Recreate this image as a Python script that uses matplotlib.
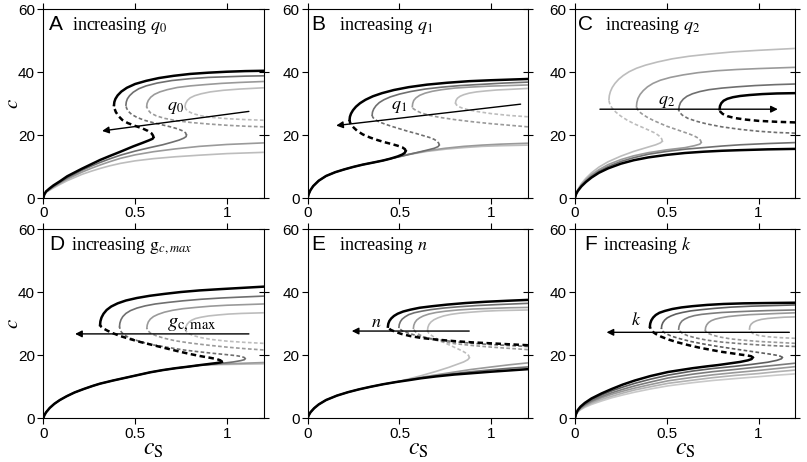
import matplotlib
matplotlib.use("Agg")
import matplotlib.pyplot as plt

plt.rcParams['font.family'] = ['Liberation Sans', 'DejaVu Sans']
plt.rcParams['mathtext.fontset'] = 'stix'

# ---- panel A: increasing q0 (index 0 = black) ----
A_base_cs = [0, .005, .015, .035, .055, .09, .13, .17, .21, .26, .31, .36, .42]
A_low_cs = [A_base_cs + [.49, .54, .575, .595, .60],
            A_base_cs + [.50, .58, .65, .70, .74, .765, .778, .78],
            A_base_cs + [.50, .6, .72, .85, 1.0, 1.2],
            A_base_cs + [.50, .6, .72, .85, 1.0, 1.2]]
A_low_c = [[0, 1.1, 2.1, 3.1, 4.0, 5.3, 6.9, 8.1, 9.3, 10.7, 12.1, 13.3, 14.7, 16.4, 17.5, 18.3, 18.8, 19.2],
           [0, 1.05, 2.0, 2.9, 3.7, 5.0, 6.4, 7.6, 8.8, 10.1, 11.3, 12.4, 13.6, 14.9, 16.0, 16.9, 17.7, 18.4, 19.0, 19.5, 20],
           [0, 1.0, 1.9, 2.7, 3.5, 4.7, 6.0, 7.1, 8.2, 9.4, 10.5, 11.5, 12.6, 13.7, 14.7, 15.6, 16.4, 17, 17.5],
           [0, .95, 1.8, 2.5, 3.2, 4.3, 5.5, 6.5, 7.5, 8.5, 9.4, 10.2, 11.0, 11.8, 12.5, 13.1, 13.6, 14.1, 14.5]]
A_mid_cs = [[.60, .598, .59, .57, .54, .50, .46, .43, .41, .395, .388, .385],
            [.78, .775, .76, .735, .70, .65, .60, .55, .51, .48, .462, .453, .45],
            [1.2, 1.1, 1.0, .90, .80, .72, .66, .615, .585, .57, .563],
            [1.2, 1.1, 1.0, .92, .86, .815, .79, .777, .772]]
A_mid_c = [[19.2, 19.8, 20.5, 21.3, 22.1, 22.9, 23.8, 24.8, 26, 27.3, 28.4, 29.5],
           [20, 20.7, 21.3, 21.9, 22.5, 23.2, 23.9, 24.7, 25.6, 26.6, 27.6, 28.6, 29.5],
           [22.6, 22.8, 23.1, 23.5, 24.0, 24.6, 25.3, 26.1, 27, 28, 29],
           [24.7, 24.9, 25.2, 25.6, 26.1, 26.8, 27.5, 28.2, 29]]
A_up_cs = [[.385, .387, .393, .405, .425, .455, .50, .56, .63, .71, .80, .90, 1.0, 1.1, 1.2],
           [.45, .452, .458, .47, .49, .52, .56, .62, .70, .80, .90, 1.0, 1.1, 1.2],
           [.563, .565, .572, .585, .605, .635, .675, .73, .80, .88, .97, 1.07, 1.2],
           [.772, .775, .785, .80, .825, .86, .91, .98, 1.07, 1.2]]
A_up_c = [[29.5, 30.5, 31.5, 32.6, 33.8, 35, 36.2, 37.2, 38.1, 38.8, 39.4, 39.8, 40.1, 40.3, 40.4],
          [29.5, 30.5, 31.5, 32.5, 33.6, 34.7, 35.6, 36.5, 37.3, 37.9, 38.3, 38.5, 38.7, 38.8],
          [29, 30, 31, 32, 32.9, 33.7, 34.4, 35.1, 35.6, 36, 36.4, 36.7, 37],
          [29, 30, 31, 31.8, 32.5, 33.1, 33.7, 34.2, 34.6, 35]]

# ---- panel B: increasing q1 ----
B_base_cs = [0, .005, .015, .03, .06, .1, .15, .2, .25, .3, .36, .41, .451]
B_base_c = [0, 1.2, 2.5, 3.8, 5.5, 7, 8.2, 9.1, 9.9, 10.6, 11.3, 11.9, 12.5]
B_low_cs = [B_base_cs + [.49, .515, .528, .534],
            B_base_cs + [.50, .55, .60, .65, .69, .71, .717],
            B_base_cs + [.50, .55, .65, .75, .85, .95, 1.05, 1.2],
            B_base_cs + [.50, .55, .65, .75, .85, .95, 1.05, 1.2]]
B_low_c = [B_base_c + [13.2, 13.8, 14.3, 14.9],
           B_base_c + [13.1, 13.8, 14.5, 15.2, 15.8, 16.3, 16.8],
           B_base_c + [13.2, 13.9, 15, 15.8, 16.4, 16.8, 17.1, 17.4],
           B_base_c + [13.2, 13.8, 14.8, 15.5, 16, 16.4, 16.6, 16.8]]
B_mid_cs = [[.534, .53, .515, .49, .46, .42, .38, .34, .30, .27, .25, .236, .23, .228],
            [.717, .714, .705, .69, .665, .63, .59, .545, .50, .455, .415, .385, .365, .355, .351],
            [1.2, 1.1, 1.0, .9, .8, .72, .66, .615, .59, .575, .57],
            [1.2, 1.1, 1.0, .93, .875, .84, .82, .81, .805]]
B_mid_c = [[14.9, 15.5, 16.1, 16.6, 17.1, 17.7, 18.4, 19.2, 20.2, 21.3, 22.4, 23.3, 24.1, 24.8],
           [16.8, 17.4, 18, 18.6, 19.2, 19.8, 20.5, 21.2, 22, 22.8, 23.6, 24.3, 25, 25.6, 26.3],
           [22.6, 23.1, 23.6, 24.2, 24.9, 25.6, 26.3, 27.1, 27.8, 28.4, 29],
           [25.8, 26.2, 26.8, 27.4, 28, 28.6, 29.1, 29.6, 30.2]]
B_up_cs = [[.228, .23, .236, .247, .263, .285, .315, .355, .405, .47, .55, .65, .76, .88, 1.0, 1.1, 1.2],
           [.351, .353, .36, .372, .39, .415, .45, .50, .56, .64, .73, .83, .95, 1.07, 1.2],
           [.57, .572, .578, .59, .61, .64, .68, .73, .80, .88, .98, 1.09, 1.2],
           [.805, .808, .816, .83, .85, .88, .92, .97, 1.03, 1.1, 1.2]]
B_up_c = [[24.8, 25.8, 26.8, 27.9, 29, 30.1, 31.2, 32.3, 33.3, 34.3, 35.2, 36, 36.6, 37.1, 37.4, 37.6, 37.8],
          [26.3, 27.3, 28.3, 29.3, 30.3, 31.2, 32.1, 33, 33.8, 34.6, 35.2, 35.7, 36.1, 36.5, 36.8],
          [29, 30, 31, 31.8, 32.6, 33.3, 33.9, 34.4, 34.9, 35.2, 35.5, 35.7, 35.9],
          [30.2, 31, 31.7, 32.3, 32.8, 33.3, 33.7, 34, 34.3, 34.5, 34.8]]

# ---- panel C: increasing q2 ----
C_base_cs = [0, .005, .015, .035, .06, .09, .13, .18, .25, .32, .40]
C_low_cs = [C_base_cs + [.5, .6, .7, .8, .9, 1.05, 1.2],
            C_base_cs + [.5, .6, .7, .8, .9, 1.05, 1.2],
            C_base_cs + [.5, .6, .65, .68, .688],
            C_base_cs + [.44, .465, .476]]
C_low_c = [[0, 1.1, 2.2, 3.7, 5.1, 6.5, 8, 9.4, 10.9, 12, 12.9, 13.7, 14.3, 14.7, 15, 15.2, 15.45, 15.6],
           [0, 1.15, 2.3, 3.9, 5.4, 6.9, 8.5, 10, 11.6, 12.8, 13.9, 14.8, 15.5, 16, 16.5, 16.9, 17.3, 17.6],
           [0, 1.2, 2.5, 4.2, 5.8, 7.4, 9, 10.6, 12.2, 13.4, 14.4, 15.3, 16, 16.6, 17.1, 17.6],
           [0, 1.3, 2.7, 4.6, 6.3, 8, 9.8, 11.5, 13.3, 14.8, 16.2, 16.9, 17.5, 18]]
C_mid_cs = [[1.2, 1.1, 1.0, .93, .87, .83, .805, .792, .788],
            [1.2, 1.1, 1.0, .90, .80, .72, .66, .615, .585, .57, .565],
            [.688, .684, .672, .65, .62, .585, .545, .50, .46, .425, .395, .37, .35, .34, .335],
            [.476, .473, .465, .45, .43, .40, .365, .325, .285, .25, .222, .203, .192, .187, .185]]
C_mid_c = [[24, 24.2, 24.5, 24.9, 25.4, 26, 26.7, 27.4, 28.2],
           [20.6, 20.8, 21.2, 21.8, 22.6, 23.5, 24.4, 25.3, 26.3, 27.2, 28],
           [17.6, 18.3, 19, 19.7, 20.4, 21.1, 21.9, 22.8, 23.8, 24.7, 25.6, 26.5, 27.4, 28.2, 29],
           [18, 18.7, 19.4, 20.1, 20.8, 21.6, 22.5, 23.5, 24.7, 26, 27.3, 28.5, 29.5, 30.4, 31.2]]
C_up_cs = [[.788, .79, .797, .81, .83, .86, .9, .95, 1.02, 1.1, 1.2],
           [.565, .568, .575, .59, .61, .64, .68, .73, .80, .88, .98, 1.09, 1.2],
           [.335, .337, .343, .355, .372, .395, .425, .465, .52, .59, .67, .77, .88, 1.0, 1.1, 1.2],
           [.185, .187, .193, .203, .218, .238, .263, .295, .335, .385, .45, .53, .62, .73, .86, 1.0, 1.2]]
C_up_c = [[28.2, 29.2, 30.1, 30.9, 31.5, 32, 32.4, 32.7, 33, 33.2, 33.3],
          [28, 29.2, 30.3, 31.4, 32.3, 33.1, 33.8, 34.4, 34.9, 35.3, 35.7, 36, 36.2],
          [29, 30.3, 31.6, 32.9, 34.1, 35.3, 36.4, 37.4, 38.3, 39.1, 39.8, 40.4, 40.8, 41.1, 41.3, 41.5],
          [31.2, 32.5, 33.8, 35.1, 36.4, 37.7, 38.9, 40.1, 41.2, 42.2, 43.2, 44.2, 45, 45.7, 46.4, 46.9, 47.5]]

# ---- panel D: increasing gc,max ----
D_base_cs = [0, .005, .015, .035, .06, .09, .127, .17, .22, .27, .309, .38, .45, .52, .582, .65, .72, .79, .855]
D_base_c = [0, .9, 1.9, 3.3, 4.6, 5.8, 7.0, 8.2, 9.3, 10.3, 11.0, 12.0, 12.9, 13.8, 14.6, 15.3, 15.9, 16.4, 16.9]
D_low_cs = [D_base_cs + [.91, .945, .965, .973],
            D_base_cs + [.92, .98, 1.036, 1.075, 1.095, 1.1],
            D_base_cs + [.92, 1.0, 1.1, 1.2],
            D_base_cs + [.92, 1.0, 1.1, 1.2]]
D_low_c = [D_base_c + [17.3, 17.55, 17.75, 17.9],
           D_base_c + [17.2, 17.5, 17.9, 18.3, 18.6, 18.9],
           D_base_c + [17.1, 17.3, 17.5, 17.7],
           D_base_c + [17.0, 17.1, 17.2, 17.3]]
D_mid_cs = [[.973, .965, .945, .91, .86, .80, .74, .67, .60, .53, .47, .42, .38, .35, .328, .315, .309],
            [1.1, 1.095, 1.08, 1.05, 1.0, .93, .85, .764, .68, .60, .53, .475, .44, .425, .418, .415],
            [1.2, 1.1, 1.0, .9, .8, .72, .66, .615, .585, .57, .564],
            [1.2, 1.1, 1.0, .92, .86, .815, .79, .778, .775]]
D_mid_c = [[17.9, 18.4, 18.8, 19.2, 19.7, 20.4, 21.2, 22.2, 23.2, 24.2, 25.2, 26.1, 27, 27.8, 28.5, 29.1, 29.6],
           [18.9, 19.3, 19.6, 19.9, 20.2, 20.6, 21.1, 21.7, 22.5, 23.3, 24.3, 25.4, 26.5, 27.4, 28.2, 29.1],
           [21.7, 22.1, 22.6, 23.2, 23.9, 24.6, 25.4, 26.2, 27, 27.8, 28.6],
           [23.8, 24.1, 24.5, 25, 25.6, 26.3, 27, 27.6, 28.2]]
D_up_cs = [[.309, .311, .317, .328, .345, .37, .405, .45, .51, .58, .66, .75, .85, .96, 1.08, 1.2],
           [.415, .417, .423, .433, .45, .475, .51, .555, .61, .68, .76, .86, .97, 1.08, 1.2],
           [.564, .566, .572, .583, .6, .625, .66, .705, .76, .83, .91, 1.0, 1.1, 1.2],
           [.775, .777, .784, .795, .81, .83, .86, .9, .95, 1.01, 1.08, 1.2]]
D_up_c = [[29.6, 30.8, 32, 33.2, 34.4, 35.5, 36.5, 37.4, 38.2, 38.9, 39.5, 40.1, 40.6, 41, 41.4, 41.8],
          [29.1, 30.2, 31.3, 32.3, 33.3, 34.2, 35, 35.7, 36.3, 36.8, 37.3, 37.8, 38.2, 38.5, 38.8],
          [28.6, 29.6, 30.6, 31.5, 32.3, 33, 33.7, 34.3, 34.8, 35.2, 35.6, 35.9, 36.1, 36.3],
          [28.2, 29.1, 29.9, 30.6, 31.2, 31.7, 32.1, 32.5, 32.8, 33.1, 33.3, 33.5]]

# ---- panel E: increasing n ----
E_base_cs = [0, .005, .015, .035, .06, .1, .159, .22, .28, .342, .41, .48]
E_base_c = [0, .9, 1.9, 3.2, 4.4, 5.8, 7.2, 8.3, 9.2, 10, 10.8, 11.5]
E_low_cs = [E_base_cs + [.55, .616, .7, .8, .89, 1.0, 1.1, 1.2],
            E_base_cs + [.55, .616, .7, .8, .89, 1.0, 1.1, 1.2],
            E_base_cs + [.55, .616, .7, .8, .89, 1.0, 1.1, 1.2],
            E_base_cs + [.55, .616, .7, .77, .817, .85, .872, .881]]
E_low_c = [E_base_c + [12.1, 12.7, 13.3, 13.9, 14.3, 14.8, 15.2, 15.6],
           E_base_c + [12.2, 12.8, 13.5, 14.2, 14.8, 15.4, 15.9, 16.3],
           E_base_c + [12.3, 13, 13.8, 14.7, 15.5, 16.3, 17, 17.6],
           E_base_c + [12.5, 13.5, 14.9, 16.2, 17.2, 17.9, 18.6, 19.2]]
E_mid_cs = [[1.2, 1.1, 1.0, .9, .8, .7, .62, .56, .51, .475, .452, .441, .437],
            [1.2, 1.1, 1.0, .9, .8, .72, .65, .59, .545, .515, .502, .497],
            [1.2, 1.1, 1.0, .9, .8, .72, .66, .62, .595, .582, .576],
            [.881, .877, .865, .845, .82, .79, .76, .73, .705, .685, .67, .66, .655, .653]]
E_mid_c = [[23.2, 23.5, 23.8, 24.1, 24.5, 25, 25.5, 26.1, 26.8, 27.5, 28.1, 28.6, 29.1],
           [22.8, 23.1, 23.4, 23.8, 24.3, 24.9, 25.5, 26.3, 27.1, 27.8, 28.4, 28.9],
           [21.8, 22.2, 22.6, 23.1, 23.7, 24.5, 25.3, 26.2, 27, 27.8, 28.6],
           [19.2, 19.9, 20.6, 21.3, 22, 22.8, 23.6, 24.4, 25.2, 25.9, 26.5, 27, 27.5, 28]]
E_up_cs = [[.437, .439, .445, .455, .47, .49, .52, .56, .61, .68, .76, .86, .97, 1.08, 1.2],
           [.497, .499, .505, .515, .53, .55, .58, .62, .67, .74, .82, .92, 1.03, 1.2],
           [.576, .578, .584, .594, .61, .63, .66, .70, .75, .82, .9, 1.0, 1.1, 1.2],
           [.653, .655, .661, .672, .688, .71, .74, .78, .83, .89, .96, 1.04, 1.12, 1.2]]
E_up_c = [[29.1, 30, 30.9, 31.7, 32.5, 33.2, 33.9, 34.5, 35.1, 35.6, 36.1, 36.6, 37, 37.3, 37.6],
          [28.9, 29.8, 30.7, 31.5, 32.2, 32.9, 33.5, 34, 34.5, 35, 35.4, 35.8, 36.1, 36.5],
          [28.6, 29.5, 30.4, 31.2, 31.9, 32.5, 33.1, 33.6, 34, 34.4, 34.7, 34.9, 35.1, 35.2],
          [28, 28.9, 29.8, 30.6, 31.3, 31.9, 32.5, 33, 33.4, 33.7, 34, 34.2, 34.3, 34.4]]

# ---- panel F: increasing k ----
F_base_cs = [0, .005, .015, .03, .054, .09, .145, .2, .26, .326, .41, .507, .64]
F_low_cs = [F_base_cs + [.72, .779, .84, .9, .942, .962, .969],
            F_base_cs + [.75, .87, .96, 1.05, 1.1, 1.125, 1.13],
            F_base_cs + [.75, .87, 1.0, 1.1, 1.2],
            F_base_cs + [.75, .87, 1.0, 1.1, 1.2],
            F_base_cs + [.75, .87, 1.0, 1.1, 1.2],
            F_base_cs + [.75, .87, 1.0, 1.1, 1.2]]
F_low_c = [[0, 1.3, 2.6, 3.7, 4.9, 6.3, 7.9, 9.3, 10.7, 12.0, 13.4, 14.7, 15.9, 16.5, 16.9, 17.4, 17.9, 18.4, 18.8, 19.3],
           [0, 1.25, 2.5, 3.5, 4.6, 5.9, 7.4, 8.7, 9.9, 11.1, 12.4, 13.7, 15.0, 15.8, 16.5, 17.1, 17.8, 18.4, 18.9, 19.3],
           [0, 1.2, 2.3, 3.3, 4.3, 5.5, 6.9, 8.1, 9.2, 10.3, 11.5, 12.8, 14.0, 14.8, 15.5, 16.3, 16.9, 17.5],
           [0, 1.15, 2.2, 3.1, 4.1, 5.2, 6.5, 7.6, 8.6, 9.6, 10.7, 11.9, 13.0, 13.8, 14.5, 15.2, 15.8, 16.4],
           [0, 1.1, 2.1, 2.9, 3.8, 4.8, 6.0, 7.0, 8.0, 9.0, 10.0, 11.1, 12.1, 12.9, 13.6, 14.2, 14.8, 15.3],
           [0, 1.05, 2.0, 2.7, 3.5, 4.4, 5.5, 6.5, 7.4, 8.3, 9.3, 10.3, 11.3, 12, 12.6, 13.2, 13.7, 14.1]]
F_mid_cs = [[.969, .96, .94, .906, .86, .80, .743, .68, .62, .56, .51, .47, .44, .42, .412, .408],
            [1.13, 1.12, 1.1, 1.06, 1.0, .93, .86, .78, .70, .63, .57, .525, .495, .48, .473, .471],
            [1.2, 1.1, 1.0, .9, .8, .72, .66, .615, .585, .57, .565],
            [1.2, 1.1, 1.0, .92, .85, .79, .75, .725, .713, .71],
            [1.2, 1.12, 1.05, 1.0, .97, .956, .951],
            []]
F_mid_c = [[19.3, 19.7, 19.95, 20.2, 20.6, 21.1, 21.7, 22.4, 23.2, 24.1, 25, 25.9, 26.8, 27.6, 28.4, 29.1],
           [19.3, 19.7, 20, 20.4, 20.9, 21.5, 22.1, 22.8, 23.6, 24.4, 25.3, 26.1, 26.9, 27.5, 28.1, 28.6],
           [22.8, 23, 23.3, 23.7, 24.2, 24.8, 25.5, 26.2, 27, 27.7, 28.3],
           [23.8, 24.1, 24.4, 24.8, 25.2, 25.8, 26.4, 27, 27.5, 28],
           [25.4, 25.6, 25.9, 26.3, 26.9, 27.6, 28.4],
           []]
F_up_cs = [[.408, .41, .416, .426, .44, .46, .49, .53, .58, .64, .72, .81, .92, 1.05, 1.2],
           [.471, .473, .479, .489, .503, .523, .55, .585, .63, .69, .76, .85, .96, 1.08, 1.2],
           [.565, .567, .573, .583, .598, .62, .65, .69, .74, .80, .87, .95, 1.05, 1.2],
           [.71, .712, .718, .728, .743, .765, .795, .835, .885, .95, 1.03, 1.11, 1.2],
           [.951, .953, .96, .972, .99, 1.015, 1.05, 1.09, 1.14, 1.2],
           []]
F_up_c = [[29.1, 30.1, 31.1, 32, 32.8, 33.5, 34.1, 34.7, 35.2, 35.6, 36, 36.3, 36.5, 36.6, 36.7],
          [28.6, 29.5, 30.4, 31.2, 31.9, 32.5, 33.1, 33.6, 34.1, 34.5, 34.9, 35.3, 35.6, 35.8, 36],
          [28.3, 29.2, 30.1, 30.9, 31.5, 32.1, 32.6, 33, 33.3, 33.6, 33.8, 34, 34.2, 34.4],
          [28, 28.9, 29.7, 30.4, 31, 31.5, 31.9, 32.3, 32.6, 32.9, 33.1, 33.3, 33.5],
          [28.4, 29.2, 29.9, 30.5, 31, 31.4, 31.7, 31.9, 32.1, 32.2],
          []]

# arrows (tail, head) and their labels, data units
arrows = [((1.12, 27.5), (0.32, 21.3)),
          ((1.16, 29.8), (0.155, 23.0)),
          ((0.136, 28.2), (1.105, 28.2)),
          ((1.12, 26.8), (0.173, 26.8)),
          ((0.88, 27.7), (0.24, 27.7)),
          ((1.168, 27.3), (0.172, 27.3))]
arrow_labels = [r'$q_0$', r'$q_1$', r'$q_2$', r'$g_{\mathrm{c,max}}$', r'$n$', r'$k$']
arrow_label_pos = [(0.72, 28.6), (0.50, 29.2), (0.50, 30.6), (0.81, 29.8), (0.375, 30.5), (0.335, 31.2)]
arrow_label_size = [13, 13, 13, 15, 13, 13]

letters = ['A', 'B', 'C', 'D', 'E', 'F']
titles = [r'increasing $q_0$', r'increasing $q_1$', r'increasing $q_2$',
          r'increasing $\mathrm{g}_{c,max}$', r'increasing $n$', r'increasing $k$']
letter_x = [.026, .018, .015, .027, .018, .043]
title_x = [.13, .14, .136, .126, .14, .129]

panels = [(A_low_cs, A_low_c, A_mid_cs, A_mid_c, A_up_cs, A_up_c),
          (B_low_cs, B_low_c, B_mid_cs, B_mid_c, B_up_cs, B_up_c),
          (C_low_cs, C_low_c, C_mid_cs, C_mid_c, C_up_cs, C_up_c),
          (D_low_cs, D_low_c, D_mid_cs, D_mid_c, D_up_cs, D_up_c),
          (E_low_cs, E_low_c, E_mid_cs, E_mid_c, E_up_cs, E_up_c),
          (F_low_cs, F_low_c, F_mid_cs, F_mid_c, F_up_cs, F_up_c)]

greys4 = ['black', '#6f6f6f', '#9a9a9a', '#bdbdbd']
greys6 = ['black', '#5e5e5e', '#7c7c7c', '#999999', '#b2b2b2', '#c9c9c9']

fig = plt.figure(figsize=(8.07, 4.62), dpi=100)
lefts = [0.0537, 0.3813, 0.7125]
bottoms = [0.5714, 0.0946]
W, H = 0.2729, 0.409

for i, (low_cs, low_c, mid_cs, mid_c, up_cs, up_c) in enumerate(panels):
    row, col = divmod(i, 3)
    ax = fig.add_axes([lefts[col], bottoms[row], W, H])
    cols = greys6 if len(low_cs) == 6 else greys4

    # light curves first, black on top
    for j in reversed(range(len(low_cs))):
        color = cols[j]
        lw = 1.8 if j == 0 else 1.2
        ax.plot(low_cs[j], low_c[j], color=color, lw=lw, solid_joinstyle='round')
        ax.plot(mid_cs[j], mid_c[j], color=color, lw=lw, ls=(0, (2.2, 1.4)))
        ax.plot(up_cs[j], up_c[j], color=color, lw=lw, solid_joinstyle='round')

    (x0, y0), (x1, y1) = arrows[i]
    ax.annotate('', xy=(x1, y1), xytext=(x0, y0),
                arrowprops=dict(arrowstyle='-|>', color='black', lw=1.0,
                                mutation_scale=10, shrinkA=0, shrinkB=0))
    lx, ly = arrow_label_pos[i]
    ax.text(lx, ly, arrow_labels[i], fontsize=arrow_label_size[i], ha='center', va='center')

    ax.text(letter_x[i], 0.89, letters[i], transform=ax.transAxes,
            fontsize=15, va='baseline', family='Liberation Sans')
    ax.text(title_x[i], 0.89, titles[i], transform=ax.transAxes,
            fontsize=13, va='baseline', family='Liberation Serif')

    ax.set_xlim(0, 1.2)
    ax.set_ylim(0, 60)
    ax.set_xticks([0, 0.5, 1])
    ax.set_xticklabels(['0', '0.5', '1'])
    ax.set_yticks([0, 20, 40, 60])
    ax.tick_params(direction='out', length=4, width=0.8, labelsize=11,
                   top=True, right=False, pad=2)
    ax.spines['right'].set_visible(False)
    sec = ax.secondary_yaxis('right')
    sec.set_yticks([0, 20, 40, 60])
    sec.tick_params(direction='inout', length=7, width=0.8, labelright=False)
    for s in ax.spines.values():
        s.set_linewidth(0.8)

    if col == 0:
        ax.set_ylabel(r'$c$', fontsize=15)
        ax.yaxis.set_label_coords(-0.095, 0.5)
    if row == 1:
        ax.set_xlabel(r'$c_\mathrm{S}$', fontsize=17, labelpad=-2)

fig.savefig('out.png', dpi=100)
